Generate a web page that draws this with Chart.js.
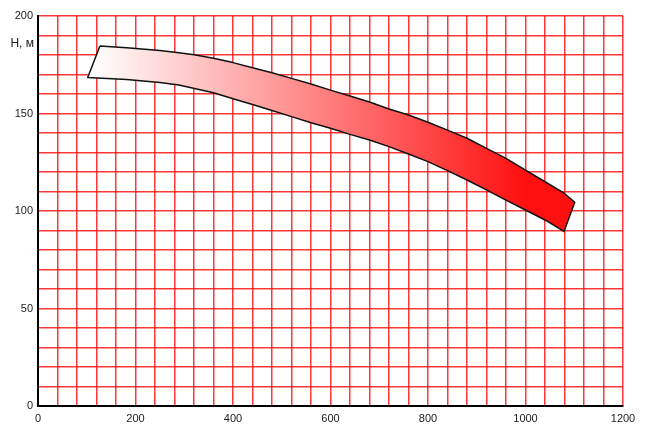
<!DOCTYPE html>
<html>
<head>
<meta charset="utf-8">
<script src="https://cdn.jsdelivr.net/npm/chart.js@4/dist/chart.umd.min.js"></script>
<style>
    body { margin: 0; background: #fff; }
    #box { width: 645px; height: 431px; }
</style>
</head>
<body>
<div id="box"><canvas id="graficoBomba"></canvas></div>
<script>
// borda de cima da faixa (Q, H)
var qTopo = [127, 182, 250, 289, 320, 360, 400, 440, 480, 520, 560, 600, 640, 680, 720, 760, 800, 840, 880, 920, 960, 1000, 1040, 1080, 1101];
var hTopo = [184.6, 183.7, 182.3, 181.2, 180.1, 178.3, 176.1, 173.5, 170.9, 168.0, 165.1, 162.0, 159.0, 155.9, 152.3, 149.2, 145.5, 141.5, 137.3, 132.1, 127.0, 121.0, 115.0, 109.0, 104.5];
// borda de baixo da faixa
var qBaixo = [102, 182, 250, 289, 360, 400, 440, 480, 520, 560, 600, 640, 680, 720, 760, 800, 840, 880, 920, 960, 1000, 1040, 1079];
var hBaixo = [168.5, 167.4, 165.9, 164.6, 160.6, 157.6, 154.6, 151.5, 148.4, 145.3, 142.4, 139.3, 136.4, 133.0, 129.2, 125.3, 120.7, 115.9, 110.8, 105.6, 100.5, 95.4, 89.5];

var ticksQ = [0, 200, 400, 600, 800, 1000, 1200];
var ticksH = [0, 50, 100, 150, 200];

var fonte = "'Liberation Sans', Arial, sans-serif";

// contorno fechado: topo da esquerda p/ direita, baixo da direita p/ esquerda
var pontos = [];
for (let i = 0; i < qTopo.length; i++) {
    pontos.push({x: qTopo[i], y: hTopo[i]});
}
for (let i = qBaixo.length - 1; i >= 0; i--) {
    pontos.push({x: qBaixo[i], y: hBaixo[i]});
}
pontos.push({x: qTopo[0], y: hTopo[0]});

var textos = {
    id: 'textos',
    afterDraw: function (chart) {
        var c = chart.ctx;
        var sx = chart.scales.x;
        var sy = chart.scales.y;
        c.save();
        c.fillStyle = '#222';
        c.textBaseline = 'middle';
        c.font = '12px ' + fonte;
        c.textAlign = 'right';
        c.fillText('H, м', sx.left - 4, sy.getPixelForValue(186));
        c.font = '11px ' + fonte;
        c.textAlign = 'left';
        c.fillText('Q,м³/ч', sx.getPixelForValue(1080), sx.bottom + 12);
        c.restore();
    }
};

var ctx = document.getElementById('graficoBomba');

var myChart = new Chart(ctx, {
    type: 'scatter',
    data: {
        datasets: [{
            data: pontos,
            showLine: true,
            tension: 0,
            pointRadius: 0,
            borderColor: '#111',
            borderWidth: 1.5,
            borderJoinStyle: 'round',
            fill: 'shape',
            backgroundColor: function (context) {
                var chart = context.chart;
                if (!chart.chartArea) return '#f88';
                var sx = chart.scales.x;
                var g = chart.ctx.createLinearGradient(sx.getPixelForValue(110), 0, sx.getPixelForValue(1000), 0);
                g.addColorStop(0, '#ffffff');
                g.addColorStop(1, '#ff1010');
                return g;
            }
        }]
    },
    options: {
        responsive: true,
        maintainAspectRatio: false,
        animation: false,
        layout: {
            padding: {top: 16, right: 22, left: 0, bottom: 0}
        },
        plugins: {
            legend: {display: false},
            tooltip: {enabled: false}
        },
        scales: {
            x: {
                type: 'linear',
                min: 0,
                max: 1200,
                afterFit: function (s) { s.height = 25; },
                border: {display: true, color: '#000', width: 2},
                grid: {
                    color: 'rgba(255,20,20,0.85)',
                    lineWidth: 1.5,
                    drawTicks: false
                },
                ticks: {
                    stepSize: 40,
                    autoSkip: false,
                    maxRotation: 0,
                    padding: 6,
                    color: '#222',
                    font: {family: fonte, size: 11},
                    callback: function (v) { return ticksQ.indexOf(v) >= 0 ? v : ''; }
                }
            },
            y: {
                min: 0,
                max: 200,
                afterFit: function (s) { s.width = 38; },
                border: {display: true, color: '#000', width: 2},
                grid: {
                    color: 'rgba(255,20,20,0.85)',
                    lineWidth: 1.5,
                    drawTicks: false
                },
                ticks: {
                    stepSize: 10,
                    autoSkip: false,
                    padding: 5,
                    color: '#222',
                    font: {family: fonte, size: 11},
                    callback: function (v) { return ticksH.indexOf(v) >= 0 ? v : ''; }
                }
            }
        }
    },
    plugins: [textos]
});
</script>
</body>
</html>
